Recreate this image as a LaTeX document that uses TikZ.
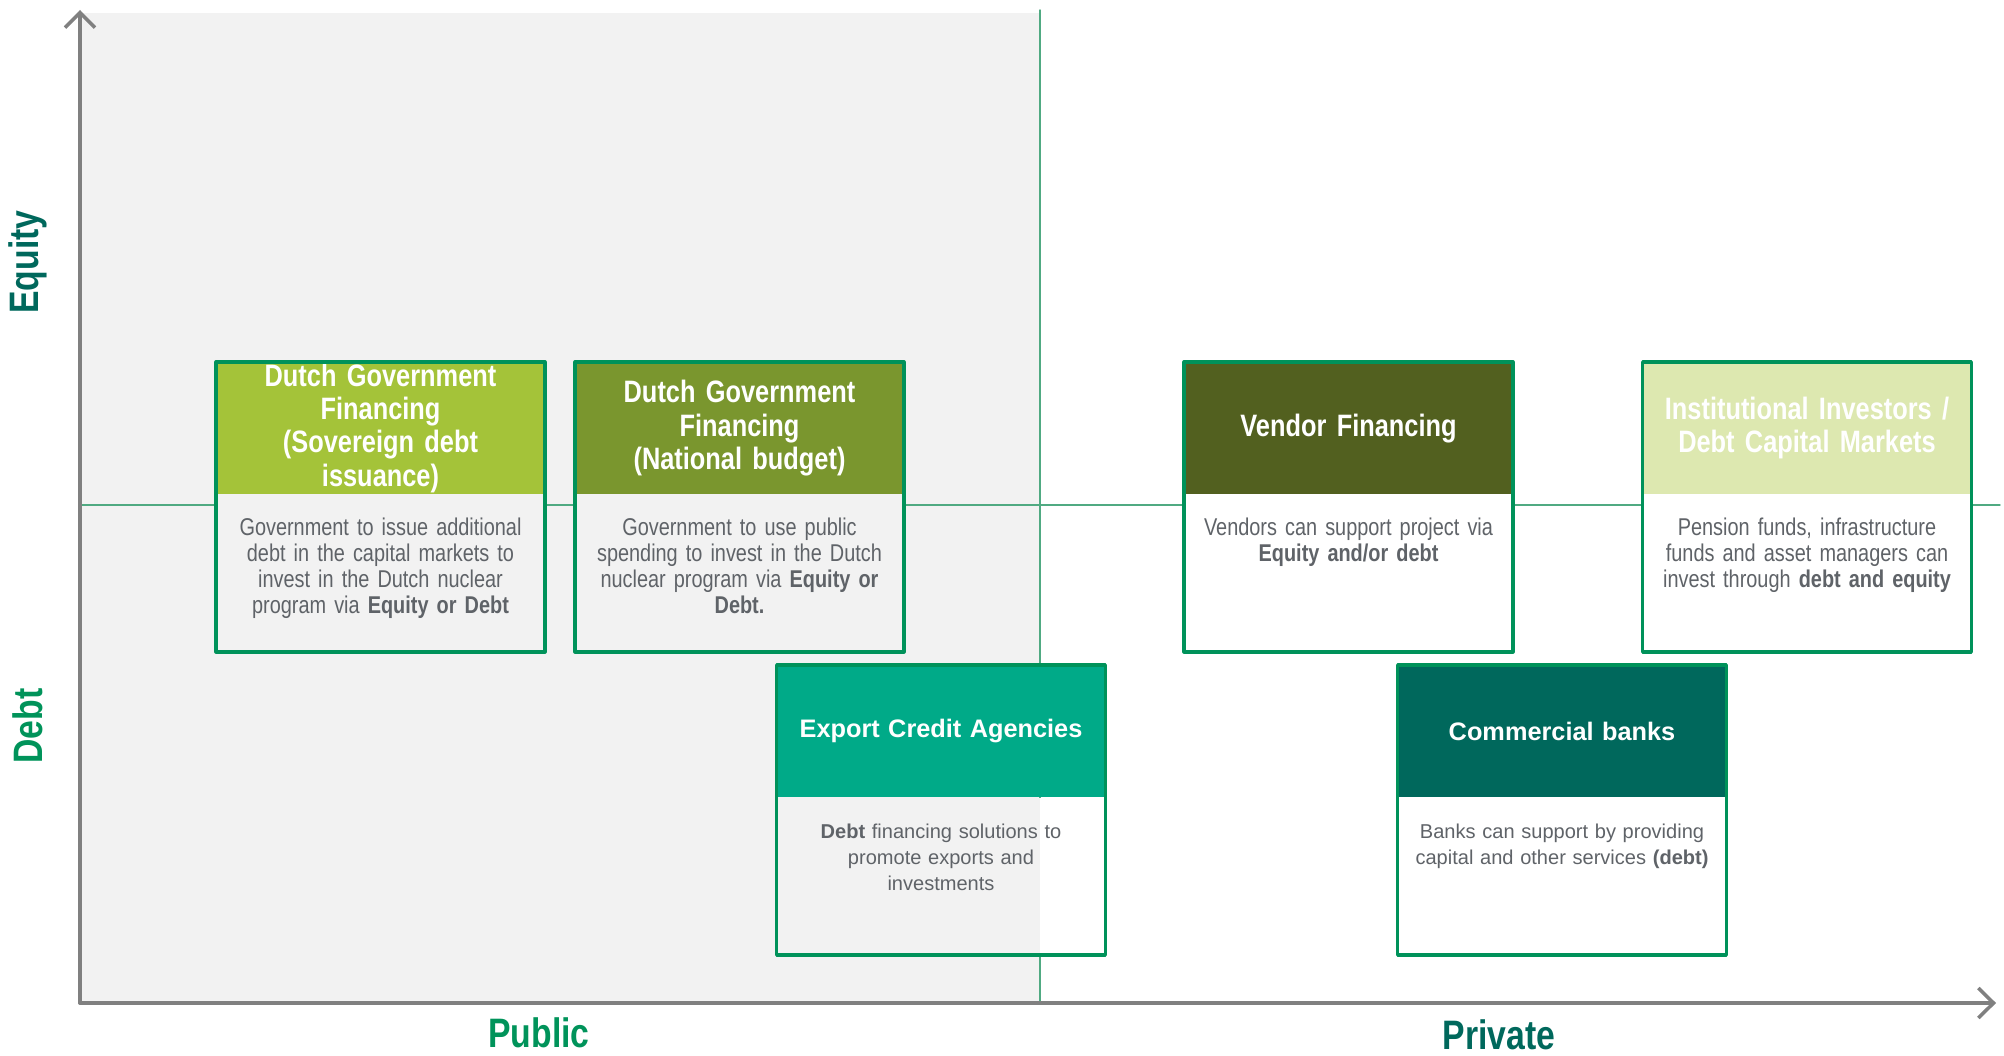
\documentclass[tikz,border=0pt]{standalone}
\usepackage{fontspec}
\setmainfont{Liberation Sans}
\newfontfamily\narrowfont[FakeStretch=0.82]{Liberation Sans}
\usetikzlibrary{arrows.meta}

\definecolor{bgGray}{RGB}{242,242,242}
\definecolor{axisGray}{RGB}{128,128,128}
\definecolor{lineGreen}{RGB}{80,170,130}
\definecolor{boxGreen}{RGB}{0,146,90}
\definecolor{txtGray}{RGB}{95,99,104}
\definecolor{hdrSov}{RGB}{164,195,57}
\definecolor{hdrNat}{RGB}{122,150,46}
\definecolor{hdrEca}{RGB}{0,170,136}
\definecolor{hdrVen}{RGB}{82,96,31}
\definecolor{hdrInst}{RGB}{221,232,176}
\definecolor{hdrBank}{RGB}{0,104,92}
\definecolor{lblTeal}{RGB}{0,104,92}
\definecolor{lblGreen}{RGB}{0,147,90}

\newcommand{\hdrnarrow}{\narrowfont\bfseries\fontsize{8.8}{9.45}\selectfont}
\newcommand{\hdrwide}{\bfseries\fontsize{7.2}{8.6}\selectfont}
\newcommand{\txtnarrow}{\narrowfont\fontsize{6.9}{7.4}\selectfont}
\newcommand{\txtwide}{\fontsize{5.7}{7.4}\selectfont}
\newcommand{\axisfont}{\narrowfont\bfseries\fontsize{11.7}{13}\selectfont}

\tikzset{
  hdr/.style={rectangle,anchor=north,minimum width=3.27cm,minimum height=1.31cm,
    inner sep=0pt,text width=3.1cm,align=center,text=white},
  bodybox/.style={rectangle,anchor=north,minimum width=3.27cm,minimum height=1.56cm,
    inner sep=0pt,fill=white},
  bodytxt/.style={anchor=north,text width=3.1cm,align=center,inner sep=0pt,
    text=txtGray,yshift=-0.23cm},
  frame/.style={draw=boxGreen,line width=1pt},
  axis/.style={draw=axisGray,line width=1pt,-{Straight Barb[length=4.3pt,width=8.5pt]}},
  grid/.style={draw=lineGreen,line width=0.4pt},
  axislbl/.style={font=\axisfont,inner sep=0pt}
}

\begin{document}
\begin{tikzpicture}[x=0.01cm,y=-0.01cm,line cap=round,line join=round]
\useasboundingbox (0,0) rectangle (2004,1055);
\coordinate (origin) at (80,1003);
\coordinate (yTop) at (80,10);
\coordinate (xEnd) at (1996,1003);
\coordinate (divTop) at (1040,10);
\fill[bgGray] (80,13) rectangle (1040,1003);
\draw[grid] (divTop) -- (divTop |- origin);
\draw[grid] (80,505) -- (2000,505);
\draw[axis] (origin) -- (yTop);
\draw[axis] (origin) -- (xEnd);

% public side
\node[hdr,fill=hdrSov,font=\hdrnarrow] (sovH) at (380.5,362) {Dutch Government\\Financing\\(Sovereign debt\\issuance)};
\node[bodybox,fill=bgGray] (sovB) at (sovH.south) {};
\node[bodytxt,font=\txtnarrow] (sovT) at (sovB.north) {Government to issue additional\\debt in the capital markets to\\invest in the Dutch nuclear\\program via \textbf{Equity or Debt}};
\draw[frame] (sovH.north west) rectangle (sovB.south east);

\node[hdr,fill=hdrNat,font=\hdrnarrow] (natH) at (739.5,362) {Dutch Government\\Financing\\(National budget)};
\node[bodybox,fill=bgGray] (natB) at (natH.south) {};
\node[bodytxt,font=\txtnarrow] (natT) at (natB.north) {Government to use public\\spending to invest in the Dutch\\nuclear program via \textbf{Equity or}\\\textbf{Debt.}};
\draw[frame] (natH.north west) rectangle (natB.south east);

\node[hdr,fill=hdrEca,font=\hdrwide] (ecaH) at (941,665) {Export Credit Agencies};
\node[bodybox,path picture={\fill[bgGray] (path picture bounding box.north west) rectangle (divTop |- path picture bounding box.south);}] (ecaB) at (ecaH.south) {};
\node[bodytxt,font=\txtwide,yshift=-0.03cm] (ecaT) at (ecaB.north) {\textbf{Debt} financing solutions to\\promote exports and\\investments};
\draw[frame] (ecaH.north west) rectangle (ecaB.south east);

% private side
\node[hdr,fill=hdrVen,font=\hdrnarrow] (venH) at (1348.5,362) {Vendor Financing};
\node[bodybox] (venB) at (venH.south) {};
\node[bodytxt,font=\txtnarrow] (venT) at (venB.north) {Vendors can support project via\\\textbf{Equity and/or debt}};
\draw[frame] (venH.north west) rectangle (venB.south east);

\node[hdr,fill=hdrInst,font=\hdrnarrow] (instH) at (1807,362) {Institutional Investors /\\Debt Capital Markets};
\node[bodybox] (instB) at (instH.south) {};
\node[bodytxt,font=\txtnarrow] (instT) at (instB.north) {Pension funds, infrastructure\\funds and asset managers can\\invest through \textbf{debt and equity}};
\draw[frame] (instH.north west) rectangle (instB.south east);

\node[hdr,fill=hdrBank,font=\hdrwide] (bankH) at (1562,665) {Commercial banks};
\node[bodybox] (bankB) at (bankH.south) {};
\node[bodytxt,font=\txtwide,yshift=-0.03cm] (bankT) at (bankB.north) {Banks can support by providing\\capital and other services \textbf{(debt)}};
\draw[frame] (bankH.north west) rectangle (bankB.south east);

% axis labels
\node[axislbl,text=lblTeal,rotate=90] (equity) at (28,262) {Equity};
\node[axislbl,text=lblGreen,rotate=90] (debt) at (28,726) {Debt};
\node[axislbl,text=lblGreen] (public) at (539,1033) {Public};
\node[axislbl,text=lblTeal] (private) at (1499,1035) {Private};
\end{tikzpicture}
\end{document}
